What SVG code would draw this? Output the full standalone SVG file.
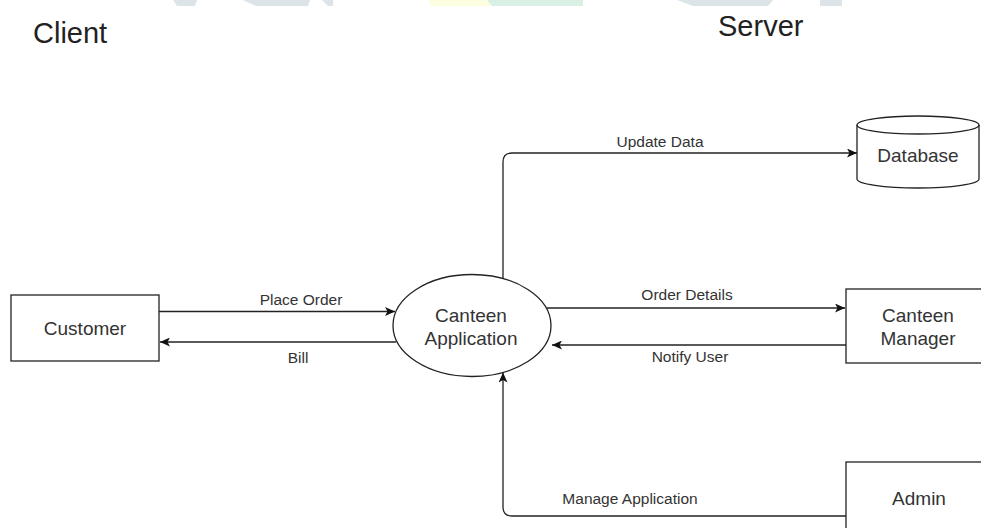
<svg xmlns="http://www.w3.org/2000/svg" width="981" height="528" viewBox="0 0 981 528">
<style>
.node{fill:#fff;stroke:#222;stroke-width:1.3}
.lbl{font-family:"Liberation Sans",Arial,sans-serif;font-size:19px;fill:#333;text-anchor:middle}
.elbl{font-family:"Liberation Sans",Arial,sans-serif;font-size:15.5px;fill:#333;text-anchor:middle}
.title{font-family:"Liberation Sans",Arial,sans-serif;font-size:29px;fill:#222}
.edge{fill:none;stroke:#222;stroke-width:1.3}
.wm-g{fill:#dde4e7}
</style>
<defs>
<marker id="arr" markerUnits="userSpaceOnUse" markerWidth="11" markerHeight="9" refX="10" refY="4.5" orient="auto">
<path d="M0,0 L10,4.5 L0,9 L2.5,4.5 z" fill="#111"/>
</marker>
</defs>
<rect width="981" height="528" fill="#fff"/>
<g id="watermark">
<polygon class="wm-g" points="173,0 197,0 195,6 177,6"/>
<polygon class="wm-g" points="243,0 310,0 308,6 256,6"/>
<polygon class="wm-g" points="322,0 333,0 333,6 328,6"/>
<rect x="430" y="0" width="62" height="6" fill="#fdfde0"/>
<polygon points="487,0 583,0 583,6 492,6" fill="#d9f1e5"/>
<polygon class="wm-g" points="677,0 773,0 768,6 693,6"/>
<rect class="wm-g" x="820" y="0" width="22" height="6"/>
</g>
<g id="titles">
<text class="title" x="33" y="43">Client</text>
<text class="title" x="718" y="36">Server</text>
</g>
<g id="connectors">
<path class="edge" d="M159,311.5 H395" marker-end="url(#arr)"/>
<path class="edge" d="M396,342 H160" marker-end="url(#arr)"/>
<path class="edge" d="M547,308 H845" marker-end="url(#arr)"/>
<path class="edge" d="M846,345 H552" marker-end="url(#arr)"/>
<path class="edge" d="M503,278 V162 Q503,153 512,153 H857" marker-end="url(#arr)"/>
<path class="edge" d="M846,516 H512 Q503,516 503,507 V372.5" marker-end="url(#arr)"/>
<text class="elbl" x="301" y="305">Place Order</text>
<text class="elbl" x="298" y="363">Bill</text>
<text class="elbl" x="687" y="300">Order Details</text>
<text class="elbl" x="690" y="362">Notify User</text>
<text class="elbl" x="660" y="147">Update Data</text>
<text class="elbl" x="630" y="504">Manage Application</text>
</g>
<g id="customer">
<rect class="node" x="11" y="295" width="148" height="66"/>
<text class="lbl" x="85" y="335">Customer</text>
</g>
<g id="canteen-application">
<ellipse class="node" cx="472" cy="325.5" rx="79" ry="51"/>
<text class="lbl" x="471" y="322">Canteen</text>
<text class="lbl" x="471" y="345">Application</text>
</g>
<g id="database">
<path class="node" d="M857,125 A61,9 0 0 1 979,125 V179 A61,9 0 0 1 857,179 Z"/>
<path class="edge" d="M857,125 A61,9 0 0 0 979,125"/>
<text class="lbl" x="918" y="162">Database</text>
</g>
<g id="canteen-manager">
<rect class="node" x="846" y="289" width="144" height="74"/>
<text class="lbl" x="918" y="322">Canteen</text>
<text class="lbl" x="918" y="345">Manager</text>
</g>
<g id="admin">
<rect class="node" x="846" y="462" width="144" height="74"/>
<text class="lbl" x="919" y="505">Admin</text>
</g>
</svg>
